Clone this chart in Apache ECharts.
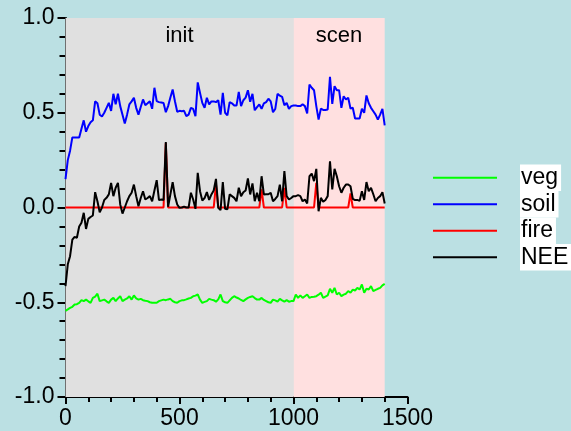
<!DOCTYPE html>
<html>
<head>
<meta charset="utf-8">
<script src="https://cdn.jsdelivr.net/npm/echarts@6/dist/echarts.min.js"></script>
<style>
html,body{margin:0;padding:0;background:#bbe0e3;}
#c{width:571px;height:431px;}
</style>
</head>
<body>
<div id="c"></div>
<script>
// time axis: start and step of the model output
const tStart = 0, tStep = 10;
const legendNames = ['veg', 'soil', 'fire', 'NEE'];
const periods = ['init', 'scen'];
const periodBounds = [0, 1000, 1400];
const xTicks = [0, 500, 1000, 1500];
const yTicks = [-1.0, -0.5, 0.0, 0.5, 1.0];

const soil = [0.15,0.25,0.30,0.37,0.37,0.37,0.37,0.415,0.46,0.40,
0.43,0.45,0.46,0.56,0.55,0.49,0.48,0.50,0.526,0.552,
0.51,0.60,0.545,0.60,0.535,0.49,0.443,0.49,0.544,0.56,
0.579,0.526,0.49,0.53,0.57,0.54,0.55,0.561,0.521,0.632,
0.561,0.556,0.554,0.552,0.503,0.535,0.58,0.623,0.561,0.505,
0.51,0.508,0.51,0.482,0.49,0.526,0.52,0.482,0.66,0.605,
0.552,0.526,0.579,0.544,0.56,0.56,0.556,0.566,0.49,0.605,
0.50,0.486,0.556,0.55,0.538,0.538,0.61,0.535,0.566,0.58,
0.619,0.558,0.60,0.513,0.53,0.544,0.521,0.549,0.556,0.574,
0.56,0.503,0.52,0.60,0.59,0.584,0.54,0.552,0.521,0.535,
0.538,0.538,0.535,0.535,0.545,0.535,0.496,0.649,0.632,0.619,
0.535,0.464,0.522,0.515,0.515,0.517,0.69,0.547,0.64,0.619,
0.619,0.526,0.587,0.57,0.579,0.522,0.526,0.47,0.47,0.47,
0.521,0.50,0.591,0.55,0.526,0.508,0.49,0.464,0.49,0.521,
0.433];

const veg = [-0.545,-0.538,-0.53,-0.524,-0.512,-0.51,-0.503,-0.489,-0.494,-0.486,
-0.495,-0.503,-0.477,-0.47,-0.455,-0.494,-0.49,-0.486,-0.495,-0.503,
-0.486,-0.477,-0.494,-0.48,-0.468,-0.494,-0.486,-0.48,-0.468,-0.486,
-0.464,-0.48,-0.486,-0.482,-0.489,-0.492,-0.494,-0.50,-0.503,-0.503,
-0.503,-0.494,-0.49,-0.486,-0.489,-0.485,-0.482,-0.494,-0.50,-0.503,
-0.494,-0.49,-0.489,-0.485,-0.48,-0.477,-0.468,-0.465,-0.459,-0.486,
-0.503,-0.498,-0.494,-0.482,-0.486,-0.489,-0.497,-0.485,-0.459,-0.494,
-0.50,-0.503,-0.49,-0.477,-0.468,-0.475,-0.48,-0.488,-0.494,-0.485,
-0.477,-0.472,-0.468,-0.478,-0.486,-0.486,-0.477,-0.488,-0.494,-0.50,
-0.503,-0.486,-0.49,-0.497,-0.482,-0.49,-0.497,-0.489,-0.497,-0.494,
-0.494,-0.459,-0.477,-0.464,-0.477,-0.468,-0.459,-0.477,-0.472,-0.471,
-0.468,-0.46,-0.45,-0.477,-0.47,-0.464,-0.429,-0.45,-0.424,-0.459,
-0.45,-0.468,-0.46,-0.455,-0.441,-0.45,-0.433,-0.438,-0.424,-0.433,
-0.406,-0.45,-0.429,-0.433,-0.415,-0.441,-0.435,-0.429,-0.424,-0.411,
-0.403];

const fire = [0,0,0,0,0,0,0,0,0,0,
0,0,0,0,0,0,0,0,0,0,
0,0,0,0,0,0,0,0,0,0,
0,0,0,0,0,0,0,0,0,0,
0,0,0,0,0.34,0,0,0,0,0,
0,0,0,0,0,0,0,0,0,0,
0,0,0,0,0,0,0.121,0,0,0,
0,0,0,0,0,0,0,0,0,0,
0,0,0,0,0,0,0.095,0,0,0,
0,0,0,0,0,0,0.104,0,0,0,
0,0,0,0,0,0,0,0,0,0,
0.13,0,0,0,0,0,0,0,0,0,
0,0,0,0,0,0.074,0,0,0,0,
0,0,0,0,0,0,0,0,0,0,
0];

const nee = [-0.415,-0.30,-0.257,-0.17,-0.155,-0.16,-0.10,-0.08,-0.028,-0.113,
-0.06,-0.05,-0.042,0.081,0.033,-0.025,0.0,0.04,0.051,0.069,
0.13,0.06,0.104,0.13,0.016,-0.032,0.0,0.033,0.06,0.078,
0.121,0.06,0.007,0.05,0.086,0.042,0.05,0.06,0.033,0.09,
0.144,0.039,0.042,0.04,0.345,0.004,0.069,0.134,0.06,0.016,
-0.002,0.0,0.005,0.0,0.0,0.078,0.042,-0.007,0.183,0.086,
0.037,0.05,0.081,0.04,0.069,0.09,0.151,-0.002,-0.014,0.134,
-0.007,-0.01,0.069,0.06,0.051,0.033,0.104,0.06,0.08,0.09,
0.153,0.069,0.127,0.033,0.078,0.033,0.165,0.069,0.07,0.07,
0.078,0.033,0.045,0.06,0.121,0.033,0.192,0.06,0.042,0.05,
0.06,0.06,0.065,0.06,0.033,0.042,0.021,0.165,0.179,0.139,
0.204,-0.02,0.051,0.03,0.04,0.06,0.244,0.095,0.204,0.165,
0.112,0.078,0.104,0.121,0.121,0.112,0.046,0.039,0.04,0.035,
0.086,0.04,0.134,0.086,0.104,0.07,0.033,0.05,0.06,0.081,
0.021];

const pair = arr => arr.map((v, i) => [tStart + i * tStep, v]);
const FONT = 'Liberation Sans, Arial, sans-serif';
const colors = {veg: '#00ff00', soil: '#0000ff', fire: '#ff0000', NEE: '#000000'};
const seriesData = {veg: veg, soil: soil, fire: fire, NEE: nee};

const chart = echarts.init(document.getElementById('c'), null, {renderer: 'canvas'});

const lineSeries = legendNames.map(n => ({
  name: n, type: 'line', data: pair(seriesData[n]), showSymbol: false, symbol: 'none',
  color: colors[n], lineStyle: {color: colors[n], width: 2}, z: 3, silent: true
}));

const option = {
  backgroundColor: '#bbe0e3',
  animation: false,
  textStyle: {fontFamily: FONT},
  grid: {left: 65.5, top: 18, width: 342, height: 379, containLabel: false},
  legend: {
    data: legendNames, orient: 'vertical', left: 433, top: 164.5, padding: 0,
    itemWidth: 64, itemHeight: 2, icon: 'rect', itemGap: 0,
    formatter: n => '{g|\u00a0}{t|' + n + '}',
    textStyle: {
      rich: {
        g: {width: 18, fontSize: 23},
        t: {backgroundColor: '#ffffff', fontSize: 23, color: '#000', padding: [2, 3, 1.5, 1], fontFamily: FONT}
      }
    }
  },
  xAxis: {
    type: 'value', min: xTicks[0], max: xTicks[xTicks.length - 1], interval: 500,
    splitLine: {show: false},
    axisLine: {show: true, onZero: false, lineStyle: {color: '#000', width: 2}},
    axisTick: {show: true, length: 7, lineStyle: {color: '#000', width: 2}},
    minorTick: {show: true, splitNumber: 5, length: 5, lineStyle: {color: '#000', width: 2}},
    axisLabel: {fontSize: 23, color: '#000', margin: 10, fontFamily: FONT, formatter: v => String(v)}
  },
  yAxis: {
    type: 'value', min: yTicks[0], max: yTicks[yTicks.length - 1], interval: 0.5,
    splitLine: {show: false},
    axisLine: {show: true, onZero: false, lineStyle: {color: '#000', width: 2}},
    axisTick: {show: true, length: 8, lineStyle: {color: '#000', width: 2}},
    minorTick: {show: true, splitNumber: 5, length: 6, lineStyle: {color: '#000', width: 2}},
    axisLabel: {fontSize: 23, color: '#000', margin: 11, fontFamily: FONT, formatter: v => v.toFixed(1)}
  },
  series: [{
    name: 'periods', type: 'line', data: [], z: 1, silent: true,
    markArea: {
      silent: true,
      label: {show: true, position: 'insideTop', distance: 7, fontSize: 22, color: '#000', fontFamily: FONT},
      data: [
        [{name: periods[0], xAxis: periodBounds[0], itemStyle: {color: '#e0e0e0', opacity: 1}}, {xAxis: periodBounds[1]}],
        [{name: periods[1], xAxis: periodBounds[1], itemStyle: {color: '#ffe0e0', opacity: 1}}, {xAxis: periodBounds[2]}]
      ]
    }
  }].concat(lineSeries)
};
chart.setOption(option);
</script>
</body>
</html>
